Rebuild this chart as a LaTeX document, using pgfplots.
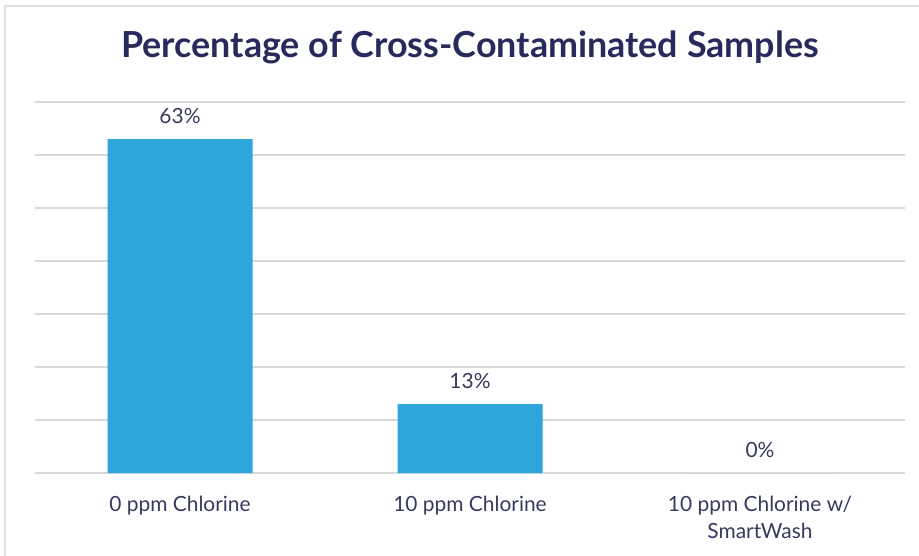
\documentclass[border=0pt]{standalone}
\usepackage{fontspec}
\setmainfont{Lato}
\usepackage{pgfplots}
\pgfplotsset{compat=1.18}
\definecolor{barblue}{RGB}{46,166,220}
\definecolor{navy}{RGB}{40,42,92}
\definecolor{labtxt}{RGB}{55,57,95}
\definecolor{gridc}{RGB}{217,217,217}
\begin{document}
\begin{tikzpicture}
\path[use as bounding box] (-35bp,-83bp) rectangle (884bp,473bp);
\draw[gray!25, line width=1.2bp] (-30bp,-83bp) -- (-30bp,467bp) -- (884bp,467bp);
\begin{axis}[
  at={(0,0)}, anchor=south west,
  scale only axis,
  width=870bp, height=371bp,
  xmin=-0.5, xmax=2.5,
  ymin=0, ymax=70,
  ytick={0,10,...,70},
  yticklabels={},
  ymajorgrids,
  grid style={gridc, line width=1.3bp},
  major tick length=0pt,
  axis line style={draw=none},
  xtick={0,1,2},
  xticklabels={0 ppm Chlorine,10 ppm Chlorine,10 ppm Chlorine w/\\SmartWash},
  xticklabel style={font=\fontsize{21}{27}\selectfont, text=labtxt, align=center, yshift=-20bp},
  ybar,
  bar width=0.5,
  nodes near coords={\pgfmathprintnumber[assume math mode=true]{\pgfplotspointmeta}\%},
  nodes near coords style={font=\fontsize{21}{25}\selectfont, text=labtxt, yshift=12bp},
  clip=false,
]
\addplot[fill=barblue, draw=none] coordinates {(0,63) (1,13) (2,0)};
\end{axis}
\node[font=\bfseries\fontsize{36}{40}\selectfont, text=navy] at (435bp,426bp) {Percentage of Cross-Contaminated Samples};
\end{tikzpicture}
\end{document}
